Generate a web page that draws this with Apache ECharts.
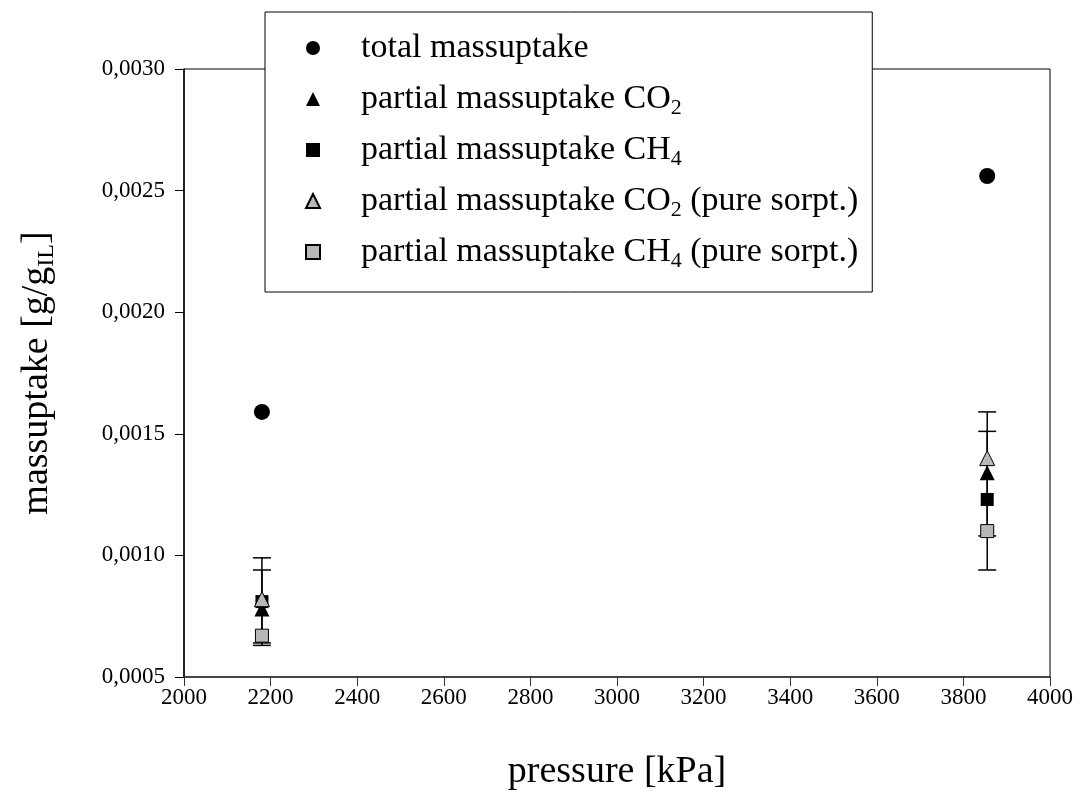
<!DOCTYPE html>
<html>
<head>
<meta charset="utf-8">
<script src="https://cdn.jsdelivr.net/npm/echarts@6/dist/echarts.min.js"></script>
<style>
  html, body { margin: 0; padding: 0; background: #fff; }
  #chart { width: 1081px; height: 798px; }
</style>
</head>
<body>
<div id="chart"></div>
<script>
// pressure [kPa] of the two measurements
const pressure = [2180, 3855];

// massuptake [g/g_IL]
const totalUptake = [0.00159, 0.00256];
const co2Uptake = [0.00078, 0.00134];
const ch4Uptake = [0.00081, 0.00123];
const co2Pure = [0.00082, 0.00140];
const ch4Pure = [0.00067, 0.00110];

// error bars (low / high)
const co2ErrLow = [0.00063, 0.00108];
const co2ErrHigh = [0.00094, 0.00159];
const ch4ErrLow = [0.00064, 0.00094];
const ch4ErrHigh = [0.00099, 0.00151];

const seriesNames = [
  'total massuptake',
  'partial massuptake CO2',
  'partial massuptake CH4',
  'partial massuptake CO2 (pure sorpt.)',
  'partial massuptake CH4 (pure sorpt.)'
];

const FONT = '"Liberation Serif", "Times New Roman", serif';

const pts = vals => pressure.map((p, i) => [p, vals[i]]);
const errPts = (lo, hi) => pressure.map((p, i) => [p, lo[i], hi[i]]);

// 误差线：竖线 + 上下横帽
function renderErr(params, api) {
  const x = api.value(0);
  const lo = api.coord([x, api.value(1)]);
  const hi = api.coord([x, api.value(2)]);
  const w = 9;
  const st = { stroke: '#000', lineWidth: 1.5 };
  return {
    type: 'group',
    children: [
      { type: 'line', shape: { x1: lo[0], y1: lo[1], x2: hi[0], y2: hi[1] }, style: st },
      { type: 'line', shape: { x1: lo[0] - w, y1: lo[1], x2: lo[0] + w, y2: lo[1] }, style: st },
      { type: 'line', shape: { x1: hi[0] - w, y1: hi[1], x2: hi[0] + w, y2: hi[1] }, style: st }
    ]
  };
}

const chart = echarts.init(document.getElementById('chart'));

const option = {
  backgroundColor: '#fff',
  animation: false,
  textStyle: { fontFamily: FONT },
  grid: {
    left: 184, right: 31, top: 69, bottom: 121,
    show: true, borderColor: '#000', borderWidth: 1
  },
  legend: {
    data: seriesNames,
    orient: 'vertical',
    left: 265,
    top: 12,
    padding: [16, 14, 20, 40],
    itemGap: 11,
    itemWidth: 14,
    itemHeight: 14,
    backgroundColor: '#fff',
    borderColor: '#000',
    borderWidth: 1,
    borderRadius: 0,
    formatter: name => name.replace('CO2', 'CO{sub|2}').replace('CH4', 'CH{sub|4}'),
    textStyle: {
      fontFamily: FONT,
      fontSize: 34,
      color: '#000',
      lineHeight: 40,
      padding: [0, 0, 0, 36],
      rich: {
        sub: { fontFamily: FONT, fontSize: 22, color: '#000', lineHeight: 13, verticalAlign: 'bottom' }
      }
    }
  },
  xAxis: {
    type: 'value',
    min: 2000,
    max: 4000,
    interval: 200,
    name: 'pressure [kPa]',
    nameLocation: 'middle',
    nameGap: 76,
    nameTextStyle: { fontFamily: FONT, fontSize: 38, color: '#000' },
    axisLine: { show: true, onZero: false, lineStyle: { color: '#333', width: 1.5 } },
    axisTick: { show: true, length: 9, lineStyle: { color: '#333', width: 1 } },
    axisLabel: { fontFamily: FONT, fontSize: 23, color: '#000', margin: 9, formatter: v => String(v) },
    splitLine: { show: false }
  },
  yAxis: {
    type: 'value',
    min: 0.0005,
    max: 0.003,
    interval: 0.0005,
    name: 'massuptake [g/g{sub|IL}]',
    nameLocation: 'middle',
    nameGap: 125,
    nameTextStyle: {
      fontFamily: FONT, fontSize: 38, color: '#000', lineHeight: 44,
      rich: { sub: { fontFamily: FONT, fontSize: 24, color: '#000', lineHeight: 16, verticalAlign: 'bottom' } }
    },
    axisLine: { show: true, onZero: false, lineStyle: { color: '#000', width: 1.5 } },
    axisTick: { show: true, length: 9, lineStyle: { color: '#000', width: 1 } },
    axisLabel: {
      fontFamily: FONT, fontSize: 23, color: '#000', margin: 19,
      formatter: v => v.toFixed(4).replace('.', ',')
    },
    splitLine: { show: false }
  },
  series: [
    {
      name: 'err-co2', type: 'custom', renderItem: renderErr,
      data: errPts(co2ErrLow, co2ErrHigh), z: 1, silent: true,
      encode: { x: 0, y: [1, 2] }
    },
    {
      name: 'err-ch4', type: 'custom', renderItem: renderErr,
      data: errPts(ch4ErrLow, ch4ErrHigh), z: 1, silent: true,
      encode: { x: 0, y: [1, 2] }
    },
    {
      name: seriesNames[0], type: 'scatter', symbol: 'circle', symbolSize: 16,
      data: pts(totalUptake), z: 3,
      itemStyle: { color: '#000', opacity: 1 }
    },
    {
      name: seriesNames[1], type: 'scatter', symbol: 'triangle', symbolSize: 15,
      data: pts(co2Uptake), z: 3,
      itemStyle: { color: '#000', opacity: 1 }
    },
    {
      name: seriesNames[2], type: 'scatter', symbol: 'rect', symbolSize: 13,
      data: pts(ch4Uptake), z: 3,
      itemStyle: { color: '#000', opacity: 1 }
    },
    {
      name: seriesNames[3], type: 'scatter', symbol: 'triangle', symbolSize: 15,
      data: pts(co2Pure), z: 4,
      itemStyle: { color: '#b8b8b8', borderColor: '#000', borderWidth: 1, opacity: 1 }
    },
    {
      name: seriesNames[4], type: 'scatter', symbol: 'rect', symbolSize: 13,
      data: pts(ch4Pure), z: 4,
      itemStyle: { color: '#b8b8b8', borderColor: '#000', borderWidth: 1, opacity: 1 }
    }
  ]
};

chart.setOption(option);
</script>
</body>
</html>
